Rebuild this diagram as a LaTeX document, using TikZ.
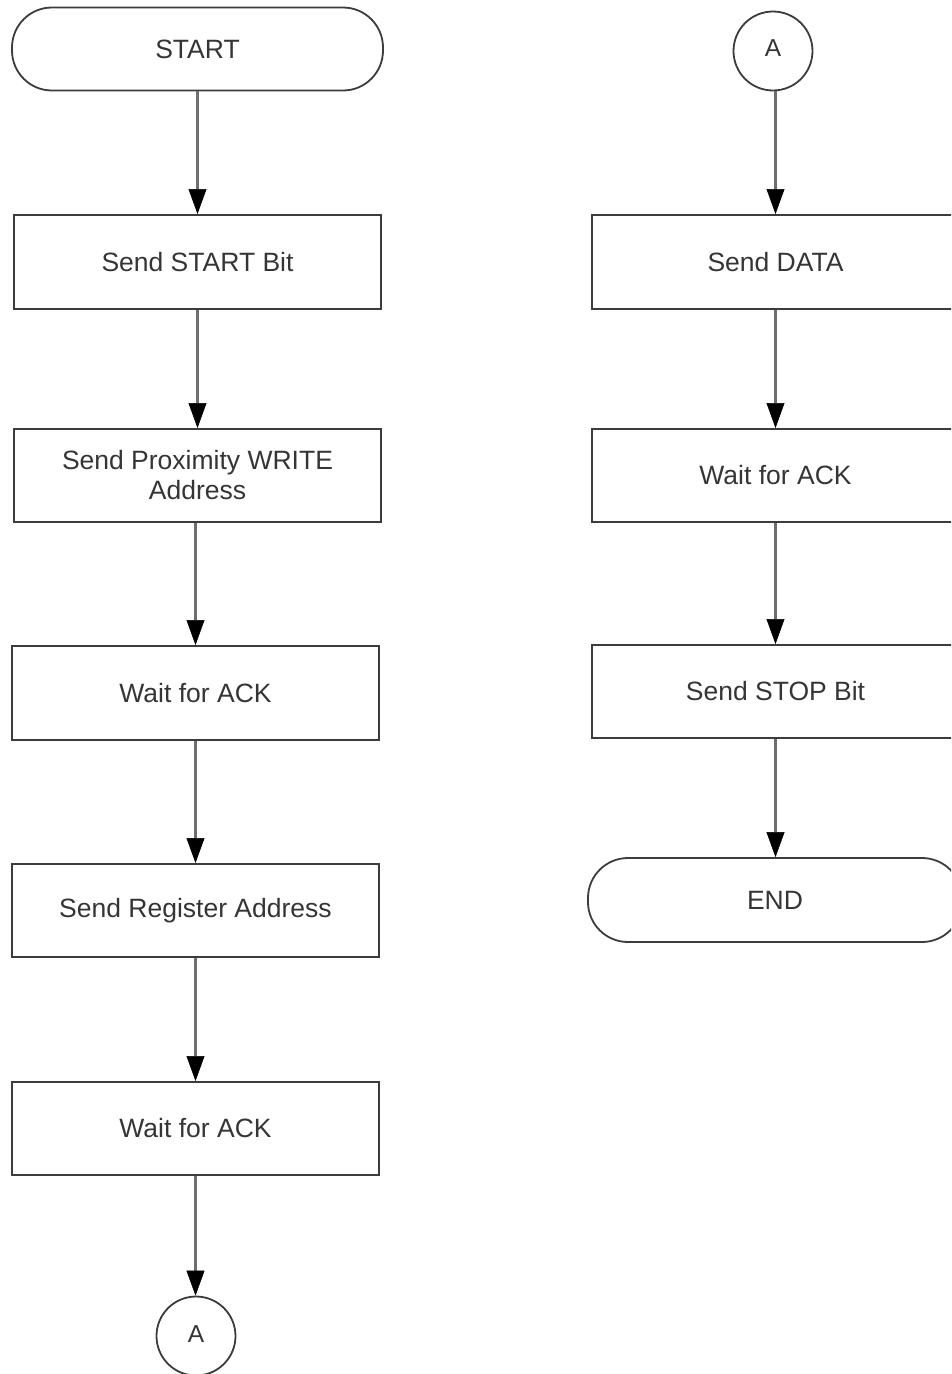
\documentclass[tikz,border=0pt]{standalone}
\usepackage{fontspec}
\setmainfont{Liberation Sans}
\usetikzlibrary{arrows.meta}
\definecolor{inkline}{HTML}{3C3C3C}
\definecolor{inktext}{HTML}{353535}
\definecolor{flowgray}{HTML}{6E6E6E}
\tikzset{
  every node/.style={font=\fontsize{26.5}{30}\selectfont, text=inktext},
  stepbox/.style={draw=inkline, line width=2pt, rectangle, minimum width=367pt,
    minimum height=94pt, inner sep=0pt, align=center},
  terminal/.style={draw=inkline, line width=1.8pt, rectangle, rounded corners=40pt,
    minimum height=83pt, inner sep=0pt},
  connector/.style={draw=inkline, line width=1.8pt, circle, minimum size=79pt, inner sep=0pt},
  flow/.style={draw=flowgray, line width=3pt,
    -{Triangle[width=18pt,length=25pt,color=black,fill=black,line width=0.5pt]}}
}
\begin{document}
\begin{tikzpicture}[x=1pt, y=-1pt]
  \useasboundingbox (0,0) rectangle (951,1374);
  \clip (0,0) rectangle (951,1374);
  \fill[white] (0,0) rectangle (951,1374);

  % left column
  \node[terminal, minimum width=371pt] (start) at (197.5,49) {START};
  \node[stepbox] (b1) at (197.5,262) {Send START Bit};
  \node[stepbox, minimum height=93pt] (b2) at (197.5,475.5) {Send Proximity WRITE\\Address};
  \node[stepbox] (b3) at (195.5,693) {Wait for ACK};
  \node[stepbox, minimum height=93pt] (b4) at (195.5,910.5) {Send Register Address};
  \node[stepbox, minimum height=93pt] (b5) at (195.5,1128.5) {Wait for ACK};
  \node[connector] (a1) at (196,1336) {\raisebox{4pt}{\fontsize{24.5}{30}\selectfont A}};

  % right column
  \node[connector] (a2) at (773,51) {\raisebox{5pt}{\fontsize{24.5}{30}\selectfont A}};
  \node[stepbox] (r1) at (775.5,262) {Send DATA};
  \node[stepbox, minimum height=93pt] (r2) at (775.5,475.5) {Wait for ACK};
  \node[stepbox, minimum height=93pt] (r3) at (775.5,691.5) {Send STOP Bit};
  \node[terminal, minimum width=374pt, minimum height=84pt] (endn) at (775,900) {END};

  % flow lines
  \draw[flow] (start.south) -- (start.south |- b1.north);
  \draw[flow] (b1.south) -- (b1.south |- b2.north);
  \draw[flow] (b2.south -| b3.south) -- (b3.north);
  \draw[flow] (b3.south) -- (b4.north);
  \draw[flow] (b4.south) -- (b5.north);
  \draw[flow] (b5.south) -- (b5.south |- a1.north);

  \draw[flow] (a2.south -| r1.north) -- (r1.north);
  \draw[flow] (r1.south) -- (r2.north);
  \draw[flow] (r2.south) -- (r3.north);
  \draw[flow] (r3.south) -- (r3.south |- endn.north);
\end{tikzpicture}
\end{document}
